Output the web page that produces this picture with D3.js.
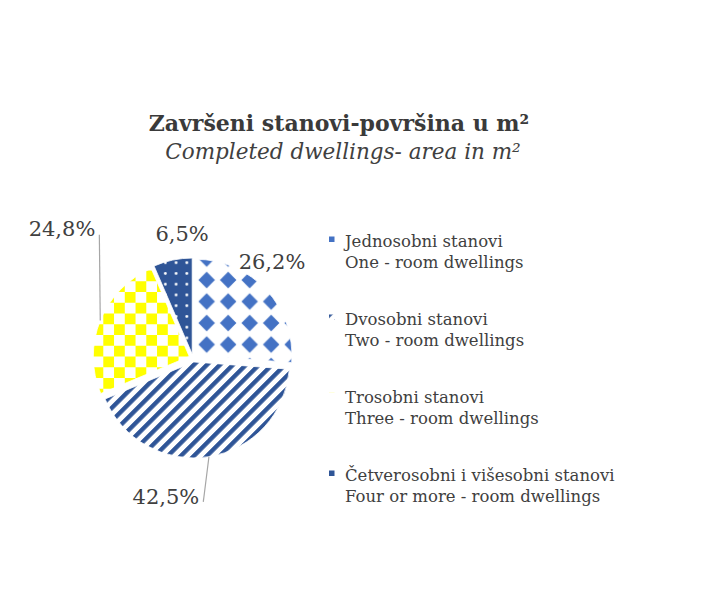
<!DOCTYPE html>
<html>
<head>
<meta charset="utf-8">
<script src="https://cdn.jsdelivr.net/npm/d3@7"></script>
<style>
  body { margin: 0; background: #fff; }
  text { font-family: "DejaVu Serif", serif; fill: #404040; }
</style>
</head>
<body>
<svg id="chart"></svg>
<script>
const categories = ["Jednosobni stanovi", "Dvosobni stanovi", "Trosobni stanovi", "Četverosobni i višesobni stanovi"];
const categoriesEn = ["One - room dwellings", "Two - room dwellings", "Three - room dwellings", "Four or more - room dwellings"];
const shares = [26.2, 42.5, 24.8, 6.5];
const patternIds = ["diamonds", "stripes", "checker", "dots"];

// label placement (polar, relative to pie centre) and which get leader lines
const labelAngle = [39.2, 191.1, 314.6, 355];
const labelDist = [125, 140.6, 184, 125.5];
const leader = [false, true, true, false];

const width = 706, height = 608;
const cx = 193, cy = 358, radius = 96, explode = 4;

const svg = d3.select("#chart").attr("width", width).attr("height", height);
const defs = svg.append("defs");

// fill patterns
const pd = defs.append("pattern").attr("id", "diamonds")
  .attr("patternUnits", "userSpaceOnUse").attr("width", 21.5).attr("height", 21.5);
pd.append("rect").attr("width", 21.5).attr("height", 21.5).attr("fill", "#fff");
pd.append("polygon").attr("points", "10.75,2.5 19,10.75 10.75,19 2.5,10.75").attr("fill", "#4472c4");

const ps = defs.append("pattern").attr("id", "stripes")
  .attr("patternUnits", "userSpaceOnUse").attr("width", 9.2).attr("height", 9.2)
  .attr("patternTransform", "rotate(45)");
ps.append("rect").attr("width", 9.2).attr("height", 9.2).attr("fill", "#fff");
ps.append("rect").attr("width", 4.4).attr("height", 9.2).attr("fill", "#2f5597");

const pc = defs.append("pattern").attr("id", "checker")
  .attr("patternUnits", "userSpaceOnUse").attr("width", 21.5).attr("height", 21.5);
pc.append("rect").attr("width", 21.5).attr("height", 21.5).attr("fill", "#fff");
pc.append("rect").attr("width", 10.75).attr("height", 10.75).attr("fill", "#ffff00");
pc.append("rect").attr("x", 10.75).attr("y", 10.75).attr("width", 10.75).attr("height", 10.75).attr("fill", "#ffff00");

const pdot = defs.append("pattern").attr("id", "dots")
  .attr("patternUnits", "userSpaceOnUse").attr("width", 10.75).attr("height", 10.75);
pdot.append("rect").attr("width", 10.75).attr("height", 10.75).attr("fill", "#2f5597");
pdot.append("circle").attr("cx", 5.4).attr("cy", 5.4).attr("r", 1.4).attr("fill", "#fff");

// title
const title = svg.append("text").attr("text-anchor", "middle");
title.append("tspan").attr("x", 339).attr("y", 131)
  .style("font-weight", "bold").style("font-size", "22px").style("fill", "#3a3a3a")
  .text("Završeni stanovi-površina  u m²");
title.append("tspan").attr("x", 343).attr("y", 159)
  .style("font-style", "italic").style("font-size", "21.5px")
  .text("Completed  dwellings-  area in m²");

// pie
const pie = d3.pie().sort(null).value(d => d);
const arcs = pie(shares);
const arc = d3.arc().innerRadius(0).outerRadius(radius);

const g = svg.append("g").attr("transform", `translate(${cx},${cy})`);

function offset(a) {
  const m = (a.startAngle + a.endAngle) / 2;
  return [Math.sin(m) * explode, -Math.cos(m) * explode];
}

g.selectAll("path.slice")
  .data(arcs)
  .enter()
  .append("path")
  .attr("class", "slice")
  .attr("transform", d => `translate(${offset(d)})`)
  .attr("d", arc)
  .attr("fill", (d, i) => `url(#${patternIds[i]})`)
  .attr("stroke", "#fff")
  .attr("stroke-width", 0.8);

const fmt = v => d3.format(".1f")(v).replace(".", ",") + "%";

const labels = g.selectAll("text.pct")
  .data(arcs)
  .enter()
  .append("text")
  .attr("class", "pct")
  .attr("x", (d, i) => Math.sin(labelAngle[i] * Math.PI / 180) * labelDist[i])
  .attr("y", (d, i) => -Math.cos(labelAngle[i] * Math.PI / 180) * labelDist[i])
  .attr("dy", "0.36em")
  .attr("text-anchor", "middle")
  .style("font-size", "21px")
  .text(d => fmt(d.value));

labels.each(function(d, i) {
  if (!leader[i]) return;
  const b = this.getBBox();
  const m = (d.startAngle + d.endAngle) / 2;
  const o = offset(d);
  const sx = o[0] + Math.sin(m) * radius;
  const sy = o[1] - Math.cos(m) * radius;
  const ex = b.x + b.width + 4;
  const ey = b.y + b.height * 0.72;
  g.insert("line", "text.pct")
    .attr("x1", sx).attr("y1", sy)
    .attr("x2", ex).attr("y2", ey)
    .attr("stroke", "#a6a6a6")
    .attr("stroke-width", 1.2);
});

// legend
const legendFill = ["#4472c4", "url(#stripes)", "url(#checker)", "#2f5597"];
const legend = svg.append("g").attr("transform", "translate(329, 247)");
const item = legend.selectAll("g.item")
  .data(categories)
  .enter()
  .append("g")
  .attr("class", "item")
  .attr("transform", (d, i) => `translate(0, ${i * 78})`);

item.append("rect")
  .attr("y", -10.5)
  .attr("width", 5.5)
  .attr("height", 5.5)
  .attr("fill", (d, i) => legendFill[i]);

item.append("text")
  .attr("x", 16)
  .style("font-size", "16.5px")
  .text(d => d);

item.append("text")
  .attr("x", 16)
  .attr("y", 21)
  .style("font-size", "16.5px")
  .text((d, i) => categoriesEn[i]);
</script>
</body>
</html>
